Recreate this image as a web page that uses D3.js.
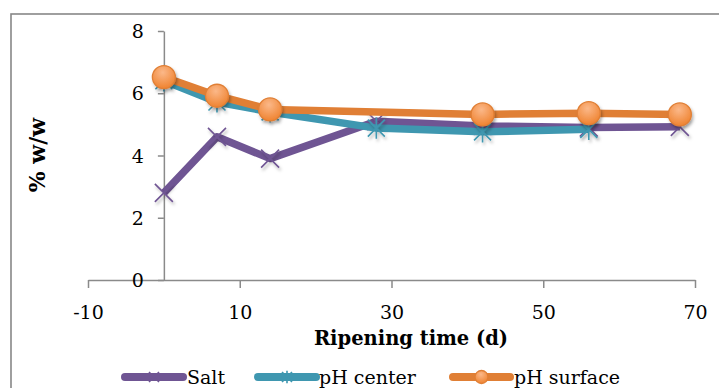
<!DOCTYPE html>
<html><head><meta charset="utf-8">
<script src="https://cdn.jsdelivr.net/npm/d3@7"></script>
<style>body{margin:0;background:#fff}svg{display:block}</style>
</head><body>
<svg id="c" width="719" height="388"></svg>
<script>
const days = [0, 7, 14, 28, 42, 56, 68];
const salt = [2.8, 4.6, 3.9, 5.1, 4.95, 4.9, 4.92];
const phCenter = [6.4, 5.72, 5.4, 4.88, 4.76, 4.84, null];
const phSurface = [6.52, 5.92, 5.48, null, 5.32, 5.36, 5.32];
const xTicks = [-10, 10, 30, 50, 70];
const yTicks = [0, 2, 4, 6, 8];
const seriesNames = ["Salt", "pH center", "pH surface"];
const colors = ["#6f5593", "#3f97b0", "#e07f35"];

const svg = d3.select("#c");
const FONT = "'DejaVu Serif', 'Liberation Serif', serif";
const x = d3.scaleLinear().domain([-10, 70]).range([88, 695]);
const y = d3.scaleLinear().domain([0, 8]).range([280, 31]);

const defs = svg.append("defs");
const sh = defs.append("filter").attr("id", "sh").attr("x", "-50%").attr("y", "-50%").attr("width", "200%").attr("height", "200%");
sh.append("feDropShadow").attr("dx", 1.5).attr("dy", 2.5).attr("stdDeviation", 1.6).attr("flood-color", "#000").attr("flood-opacity", 0.3);
const g = defs.append("radialGradient").attr("id", "og").attr("cx", "45%").attr("cy", "30%").attr("r", "70%");
g.append("stop").attr("offset", "0%").attr("stop-color", "#fbb889");
g.append("stop").attr("offset", "100%").attr("stop-color", "#ef8330");

// frame
svg.append("rect").attr("x", 11).attr("y", 14).attr("width", 730).attr("height", 400)
  .attr("fill", "none").attr("stroke", "#878787").attr("stroke-width", 1.6);

// axes
const axisColor = "#8a8a8a";
const xAxis = svg.append("g").attr("transform", `translate(0,${y(0)})`)
  .call(d3.axisBottom(x).tickValues(xTicks).tickSize(8).tickSizeOuter(0).tickFormat(d => String(d)));
const yAxis = svg.append("g").attr("transform", `translate(${x(0)},0)`)
  .call(d3.axisLeft(y).tickValues(yTicks).tickSize(6).tickSizeOuter(0).tickFormat(d => String(d)));
[xAxis, yAxis].forEach(a => {
  a.select(".domain").attr("stroke", axisColor).attr("stroke-width", 1.5);
  a.selectAll(".tick line").attr("stroke", axisColor).attr("stroke-width", 1.5);
  a.selectAll("text").attr("fill", "#000").style("font-family", FONT).style("font-size", "19px");
});
xAxis.selectAll("text").attr("dy", null).attr("y", 39);
yAxis.selectAll("text").attr("x", -20).attr("dy", "0.35em");

// titles
svg.append("text").attr("x", 411).attr("y", 345).attr("text-anchor", "middle")
  .style("font-family", FONT).style("font-weight", "bold").style("font-size", "19.5px").text("Ripening time (d)");
svg.append("text").attr("transform", "translate(45,155) rotate(-90)").attr("text-anchor", "middle")
  .style("font-family", FONT).style("font-weight", "bold").style("font-size", "22px").text("% w/w");

function xMark(sel, cx, cy, r, col) {
  sel.append("path").attr("d", `M${cx-r},${cy-r}L${cx+r},${cy+r}M${cx-r},${cy+r}L${cx+r},${cy-r}`)
    .attr("stroke", col).attr("stroke-width", 1.6).attr("fill", "none");
}
function starMark(sel, cx, cy, r, col) {
  sel.append("path").attr("d", `M${cx-r},${cy-r}L${cx+r},${cy+r}M${cx-r},${cy+r}L${cx+r},${cy-r}M${cx},${cy-r*1.25}L${cx},${cy+r*1.25}`)
    .attr("stroke", col).attr("stroke-width", 1.6).attr("fill", "none");
}
function circMark(sel, cx, cy, r) {
  sel.append("circle").attr("cx", cx).attr("cy", cy).attr("r", r)
    .attr("fill", "url(#og)").attr("stroke", "#e07f35").attr("stroke-width", 1.3);
}

const allSeries = [salt, phCenter, phSurface];
const line = d3.line().defined(d => d[1] != null).x(d => x(d[0])).y(d => y(d[1]));
allSeries.forEach((vals, i) => {
  const pts = days.map((d, j) => [d, vals[j]]).filter(p => p[1] != null);
  const gs = svg.append("g");
  gs.append("path").datum(pts).attr("d", line).attr("fill", "none")
    .attr("stroke", colors[i]).attr("stroke-width", 7.5).attr("stroke-linejoin", "round");
  const mg = gs.append("g").attr("filter", "url(#sh)");
  pts.forEach(p => {
    const cx = x(p[0]), cy = y(p[1]);
    if (i === 0) xMark(mg, cx, cy, 9, colors[0]);
    else if (i === 1) starMark(mg, cx, cy, 8.5, colors[1]);
    else circMark(mg, cx, cy, 11.5);
  });
});

// legend
const legend = [
  {x1: 125, x2: 183, tx: 187},
  {x1: 258, x2: 316, tx: 319},
  {x1: 453, x2: 510, tx: 514}
];
legend.forEach((l, i) => {
  const ly = 377;
  svg.append("line").attr("x1", l.x1).attr("x2", l.x2).attr("y1", ly).attr("y2", ly)
    .attr("stroke", colors[i]).attr("stroke-width", 8).attr("stroke-linecap", "round");
  const cx = (l.x1 + l.x2) / 2;
  if (i === 0) xMark(svg, cx, ly, 5, colors[0]);
  else if (i === 1) starMark(svg, cx, ly, 5, colors[1]);
  else circMark(svg, cx, ly, 6.5);
  svg.append("text").attr("x", l.tx).attr("y", ly + 7)
    .style("font-family", FONT).style("font-size", "19px").text(seriesNames[i]);
});
</script>
</body></html>
